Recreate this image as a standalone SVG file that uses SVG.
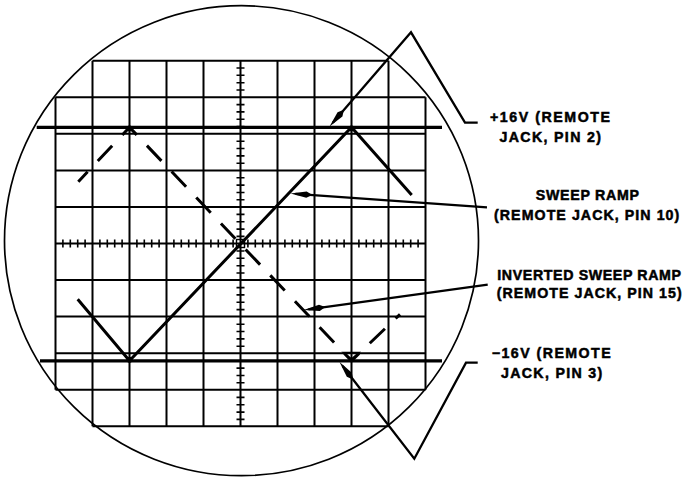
<svg xmlns="http://www.w3.org/2000/svg" width="698" height="477" viewBox="0 0 698 477">
<style>
.grid{fill:none;stroke:#000;stroke-width:2}
.tick{fill:none;stroke:#000;stroke-width:1.6}
.trace{fill:none;stroke:#000;stroke-width:3;stroke-linejoin:miter}
.dash{stroke-dasharray:21 14.8;stroke-dashoffset:7.4}
.rail{fill:none;stroke:#000;stroke-width:3.2}
.crt{fill:none;stroke:#000;stroke-width:1.7}
.lead{fill:none;stroke:#000;stroke-width:2.3;stroke-linejoin:miter}
.lbl{font-family:"Liberation Sans",Arial,Helvetica,sans-serif;font-weight:bold;font-size:14.2px;fill:#000;stroke:#000;stroke-width:0.5}
</style>
<defs>
<marker id="ah" viewBox="-18 -4 24 8" refX="0" refY="0" markerWidth="24" markerHeight="8" markerUnits="userSpaceOnUse" orient="auto">
<path d="M5,0 L-11,-3.2 L-17,0 L-11,3.2 Z" fill="#000"/>
</marker>
</defs>
<rect width="698" height="477" fill="#fff"/>
<g id="screen">
<ellipse class="crt" cx="241.5" cy="240.7" rx="237" ry="235"/>
<path class="grid" d="M55.5,97.3V389.7M92.5,60.7V426.3M129.5,60.7V426.3M166.5,60.7V426.3M203.5,60.7V426.3M240.5,60.7V426.3M277.5,60.7V426.3M314.5,60.7V426.3M351.5,60.7V426.3M388.5,60.7V426.3M425.5,97.3V389.7M92.5,60.7H388.5M55.5,97.3H425.5M55.5,133.8H425.5M55.5,170.4H425.5M55.5,206.9H425.5M55.5,243.5H425.5M55.5,280.1H425.5M55.5,316.6H425.5M55.5,353.2H425.5M55.5,389.7H425.5M92.5,426.3H388.5"/>
<path class="tick" d="M236.5,68h8M236.5,75.3h8M236.5,82.7h8M236.5,90h8M236.5,104.6h8M236.5,111.9h8M236.5,119.3h8M236.5,126.6h8M236.5,141.2h8M236.5,148.5h8M236.5,155.9h8M236.5,163.2h8M236.5,177.8h8M236.5,185.1h8M236.5,192.5h8M236.5,199.8h8M236.5,214.4h8M236.5,221.7h8M236.5,229.1h8M236.5,236.4h8M236.5,251h8M236.5,258.3h8M236.5,265.7h8M236.5,273h8M236.5,287.6h8M236.5,294.9h8M236.5,302.3h8M236.5,309.6h8M236.5,324.2h8M236.5,331.5h8M236.5,338.9h8M236.5,346.2h8M236.5,360.8h8M236.5,368.1h8M236.5,375.5h8M236.5,382.8h8M236.5,397.4h8M236.5,404.7h8M236.5,412.1h8M236.5,419.4h8M62.9,239.5v8M70.3,239.5v8M77.7,239.5v8M85.1,239.5v8M99.9,239.5v8M107.3,239.5v8M114.7,239.5v8M122.1,239.5v8M136.9,239.5v8M144.3,239.5v8M151.7,239.5v8M159.1,239.5v8M173.9,239.5v8M181.3,239.5v8M188.7,239.5v8M196.1,239.5v8M210.9,239.5v8M218.3,239.5v8M225.7,239.5v8M233.1,239.5v8M247.9,239.5v8M255.3,239.5v8M262.7,239.5v8M270.1,239.5v8M284.9,239.5v8M292.3,239.5v8M299.7,239.5v8M307.1,239.5v8M321.9,239.5v8M329.3,239.5v8M336.7,239.5v8M344.1,239.5v8M358.9,239.5v8M366.3,239.5v8M373.7,239.5v8M381.1,239.5v8M395.9,239.5v8M403.3,239.5v8M410.7,239.5v8M418.1,239.5v8"/>
<rect x="236.5" y="239.5" width="8" height="8" fill="none" stroke="#000" stroke-width="1.4"/>
</g>
<g id="traces">
<path class="rail" d="M36.7,127.3H442"/>
<path class="rail" d="M40,360.8H442"/>
<path class="trace" d="M77.7,299.3L129.5,360.8L351.5,127.3L411.7,195"/>
<path class="trace dash" d="M78.3,181.7L129.5,127.3L351.5,360.8L400,314.3"/>
<circle cx="129.5" cy="128.5" r="3"/>
<circle cx="351.5" cy="128.5" r="3"/>
<circle cx="129.5" cy="359.8" r="3"/>
<path d="M343.5,352.5L359,352.5L351.5,359Z" fill="none" stroke="#000" stroke-width="1.6"/>
</g>
<g id="connectors">
<polyline class="lead" points="477.7,122.7 465,122.7 411,32.3 332.8,122.7" marker-end="url(#ah)"/>
<polyline class="lead" points="487,207.3 295.5,193.8" stroke-width="2" marker-end="url(#ah)"/>
<polyline class="lead" points="487.7,284.7 308.5,309.3" stroke-width="2" marker-end="url(#ah)"/>
<polyline class="lead" points="477.7,362.7 466,362.7 414.3,458.7 342.6,366" marker-end="url(#ah)"/>
</g>
<g id="label-plus16">
<text class="lbl" x="490" y="122" textLength="120" lengthAdjust="spacing">+16V (REMOTE</text>
<text class="lbl" x="499.5" y="141.5" textLength="101.5" lengthAdjust="spacing">JACK, PIN 2)</text>
</g>
<g id="label-sweep">
<text class="lbl" x="535.7" y="199.5" textLength="103.3" lengthAdjust="spacing">SWEEP RAMP</text>
<text class="lbl" x="494" y="219.5" textLength="185.3" lengthAdjust="spacing">(REMOTE JACK, PIN 10)</text>
</g>
<g id="label-inverted">
<text class="lbl" x="497.3" y="279.5" textLength="183.7" lengthAdjust="spacing">INVERTED SWEEP RAMP</text>
<text class="lbl" x="496.7" y="298" textLength="185" lengthAdjust="spacing">(REMOTE JACK, PIN 15)</text>
</g>
<g id="label-minus16">
<text class="lbl" x="491.7" y="357.5" textLength="119" lengthAdjust="spacing">−16V (REMOTE</text>
<text class="lbl" x="501" y="378" textLength="101.3" lengthAdjust="spacing">JACK, PIN 3)</text>
</g>
</svg>
